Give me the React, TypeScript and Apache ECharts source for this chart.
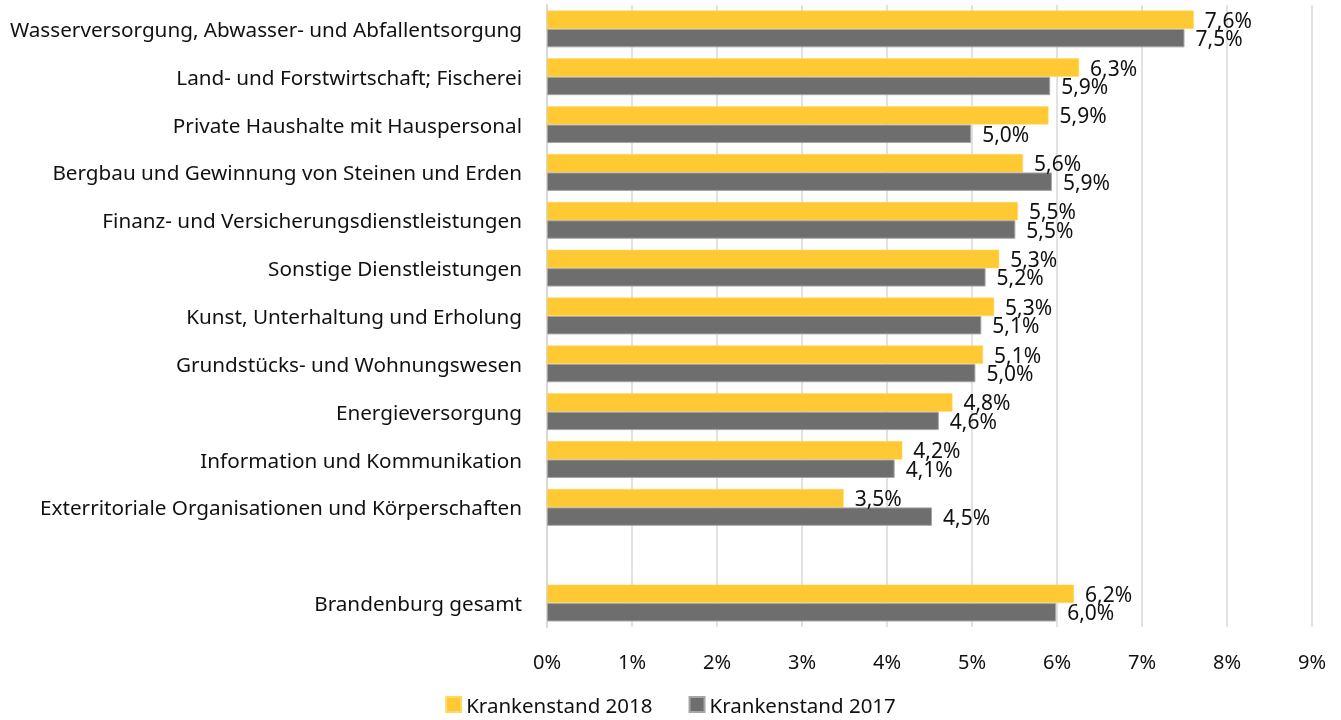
import React, { useEffect, useRef } from "react";
import * as echarts from "echarts";

const categories = [
  "Wasserversorgung, Abwasser- und Abfallentsorgung",
  "Land- und Forstwirtschaft; Fischerei",
  "Private Haushalte mit Hauspersonal",
  "Bergbau und Gewinnung von Steinen und Erden",
  "Finanz- und Versicherungsdienstleistungen",
  "Sonstige Dienstleistungen",
  "Kunst, Unterhaltung und Erholung",
  "Grundstücks- und Wohnungswesen",
  "Energieversorgung",
  "Information und Kommunikation",
  "Exterritoriale Organisationen und Körperschaften",
  "",
  "Brandenburg gesamt",
];

const values2018: (number | string)[] = [7.61, 6.26, 5.9, 5.6, 5.54, 5.32, 5.26, 5.13, 4.77, 4.18, 3.49, "-", 6.2];
const values2017: (number | string)[] = [7.5, 5.92, 4.99, 5.94, 5.51, 5.16, 5.11, 5.04, 4.61, 4.09, 4.53, "-", 5.99];

const xTicks = [0, 1, 2, 3, 4, 5, 6, 7, 8, 9];

const FONT = "'Noto Sans', sans-serif";

const fmt = (v: number) => v.toFixed(1).replace(".", ",") + "%";

export default function App() {
  const ref = useRef<HTMLDivElement>(null);
  useEffect(() => {
    if (!ref.current) return;
    const chart = echarts.init(ref.current, null, { renderer: "svg" });
    chart.setOption({
      animation: false,
      textStyle: { fontFamily: FONT },
      grid: { left: 547, right: 29, top: 5, bottom: 93, containLabel: false },
      legend: {
        top: 694,
        left: "center",
        padding: 0,
        itemWidth: 15,
        itemHeight: 15,
        itemGap: 36,
        icon: "rect",
        textStyle: { fontSize: 20.5, color: "#111", fontFamily: FONT },
        data: ["Krankenstand 2018", "Krankenstand 2017"],
      },
      xAxis: {
        type: "value",
        min: xTicks[0],
        max: xTicks[xTicks.length - 1],
        interval: 1,
        axisLine: { show: false },
        axisTick: { show: false },
        splitLine: { show: true, lineStyle: { color: "#d9d9d9", width: 1.5 } },
        axisLabel: {
          margin: 24,
          fontSize: 20,
          color: "#111",
          fontFamily: FONT,
          formatter: (v: number) => v + "%",
        },
      },
      yAxis: {
        type: "category",
        data: categories,
        inverse: true,
        axisLine: { show: true, lineStyle: { color: "#d9d9d9", width: 2 } },
        axisTick: { show: false },
        axisLabel: { margin: 25, fontSize: 20.7, color: "#111", fontFamily: FONT },
      },
      series: [
        {
          name: "Krankenstand 2018",
          type: "bar",
          data: values2018,
          barGap: "0%",
          barCategoryGap: "23%",
          itemStyle: { color: "#ffc933", borderColor: "#ffd966", borderWidth: 0.5 },
          label: {
            show: true,
            position: "right",
            distance: 11,
            fontSize: 21,
            color: "#111",
            fontFamily: FONT,
            formatter: (p: any) => fmt(p.value),
          },
        },
        {
          name: "Krankenstand 2017",
          type: "bar",
          data: values2017,
          barGap: "0%",
          barCategoryGap: "23%",
          itemStyle: { color: "#6e6e6e", borderColor: "#a6a6a6", borderWidth: 1 },
          label: {
            show: true,
            position: "right",
            distance: 11,
            fontSize: 21,
            color: "#111",
            fontFamily: FONT,
            formatter: (p: any) => fmt(p.value),
          },
        },
      ],
    });
    return () => chart.dispose();
  }, []);
  return (
    <div
      ref={ref}
      style={{ position: "fixed", left: 0, top: 0, width: 1341, height: 720, overflow: "hidden" }}
    />
  );
}
